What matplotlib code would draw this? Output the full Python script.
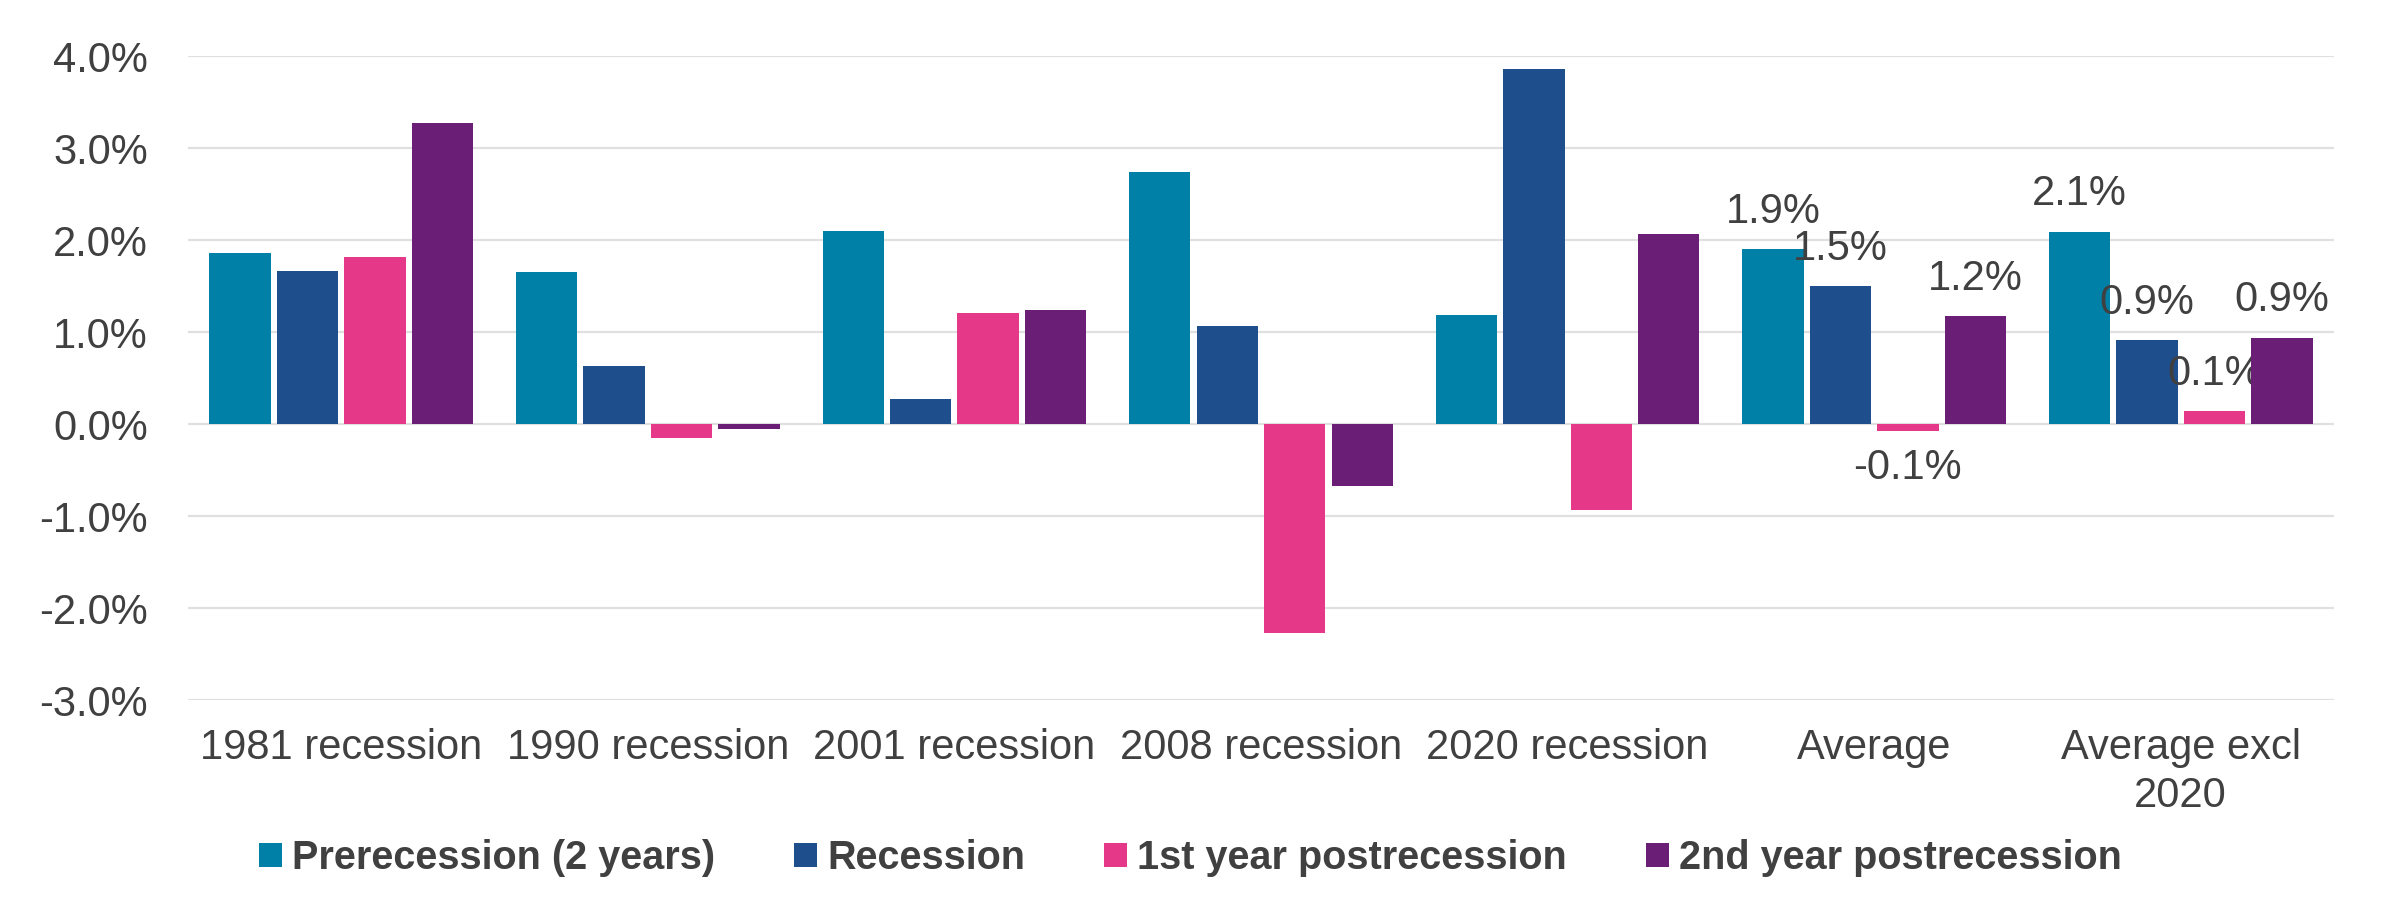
import numpy as np
import matplotlib
matplotlib.use("Agg")
import matplotlib.pyplot as plt
from matplotlib.patches import Patch

# Growth by phase of each recession (percent)
categories = ["1981 recession", "1990 recession", "2001 recession", "2008 recession",
              "2020 recession", "Average", "Average excl\n2020"]
series_names = ["Prerecession (2 years)", "Recession", "1st year postrecession",
                "2nd year postrecession"]
prerecession = [1.86, 1.65, 2.10, 2.74, 1.18, 1.90, 2.09]
recession = [1.66, 0.63, 0.27, 1.06, 3.86, 1.50, 0.91]
post_year1 = [1.81, -0.15, 1.21, -2.27, -0.94, -0.08, 0.14]
post_year2 = [3.27, -0.05, 1.24, -0.67, 2.07, 1.17, 0.94]
labelled = ["Average", "Average excl\n2020"]

colors = ["#0080A7", "#1F4E8D", "#E53889", "#6B1E76"]
TEXT = "#404040"
FONT = "Liberation Sans"

plt.rcParams["font.family"] = [FONT, "DejaVu Sans"]

W, H = 2381, 908
fig = plt.figure(figsize=(W / 100, H / 100), dpi=100)
ax = fig.add_axes([188 / W, 1 - 700 / H, (2334 - 188) / W, (700 - 56) / H])

x = np.arange(len(categories))
width = 0.2
step = 0.22
all_series = [prerecession, recession, post_year1, post_year2]

for i, (vals, col) in enumerate(zip(all_series, colors)):
    pos = x + (i - 1.5) * step
    ax.bar(pos, vals, width=width, color=col, zorder=3)
    # value labels only on the two average groups
    for cat, px, v in zip(categories, pos, vals):
        if cat not in labelled:
            continue
        if v >= 0:
            ax.annotate(f"{v:.1f}%", (px, v), xytext=(0, 19), textcoords="offset points",
                        ha="center", va="baseline", fontsize=30, color=TEXT)
        else:
            ax.annotate(f"{v:.1f}%", (px, v), xytext=(0, -12), textcoords="offset points",
                        ha="center", va="top", fontsize=30, color=TEXT)

ax.set_xlim(-0.5, len(categories) - 0.5)
ax.set_ylim(-3, 4)
ax.set_yticks(np.arange(-3, 5, 1))
ax.set_yticklabels([f"{t:.1f}%" for t in np.arange(-3, 5, 1)])
ax.set_xticks(x)
ax.set_xticklabels(categories, linespacing=1.25)

ax.set_axisbelow(True)
ax.yaxis.grid(True, color="#e0e0e0", linewidth=1.6, zorder=0)
for s in ax.spines.values():
    s.set_visible(False)
ax.tick_params(axis="both", length=0, labelsize=30, labelcolor=TEXT)
ax.tick_params(axis="y", pad=29)
ax.tick_params(axis="x", pad=20)

handles = [Patch(facecolor=c, edgecolor="none") for c in colors]
leg = fig.legend(handles, series_names, loc="center", bbox_to_anchor=(0.5, 1 - 858 / H),
                 ncol=4, frameon=False, handlelength=0.58, handleheight=0.58,
                 handletextpad=0.25, columnspacing=2.0,
                 prop={"family": FONT, "weight": "bold", "size": 28.5})
for t in leg.get_texts():
    t.set_color(TEXT)

fig.savefig("out.png", dpi=100)
